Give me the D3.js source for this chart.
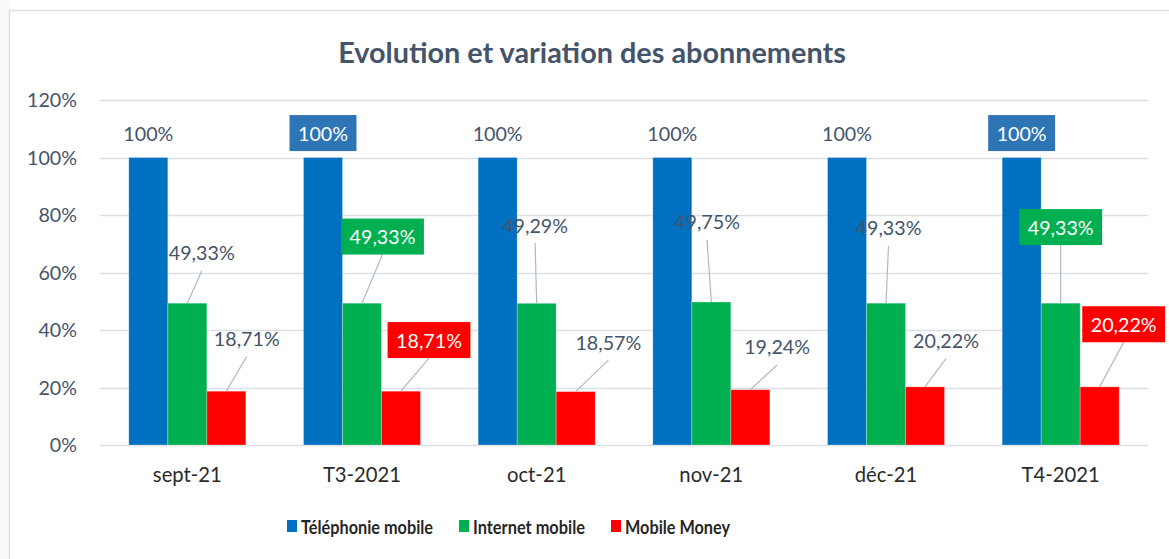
<!DOCTYPE html>
<html>
<head>
<meta charset="utf-8">
<script src="https://cdn.jsdelivr.net/npm/d3@7"></script>
<style>
  html, body { margin: 0; padding: 0; background: #ffffff; }
  svg { display: block; }
</style>
</head>
<body>
<svg id="chart" width="1169" height="559"></svg>
<script>
// ---------- data ----------
const categories = ["sept-21", "T3-2021", "oct-21", "nov-21", "déc-21", "T4-2021"];
const seriesNames = ["Téléphonie mobile", "Internet mobile", "Mobile Money"];
const telephonieMobile = [100, 100, 100, 100, 100, 100];
const internetMobile = [49.33, 49.33, 49.29, 49.75, 49.33, 49.33];
const mobileMoney = [18.71, 18.71, 18.57, 19.24, 20.22, 20.22];
const yTicks = [0, 20, 40, 60, 80, 100, 120];
const titleText = "Evolution et variation des abonnements";

// ---------- label placement (layout, not data) ----------
// [x offset from bar centre in px, label centre in value units]
const labelPlacement = [
  [[0,108.5],[0,108.5],[0,108.5],[0,108.5],[0,108.5],[0,108.5]],
  [[14.4,66.8],[20.5,72.5],[-1.6,76.5],[-4.3,77.6],[2.5,75.5],[0,75.8]],
  [[20.4,37.1],[28,36.5],[32.7,35.8],[26.7,34.1],[21,36.3],[24,42]]
];
const boxedCategories = ["T3-2021", "T4-2021"];
const legendTextWidths = [132, 112, 105];

// ---------- styles ----------
const FONT = "Lato, 'Open Sans', sans-serif";
const colors = ["#0070C0", "#00B050", "#FF0000"];
const boxColors = ["#2E75B6", "#00B050", "#FF0000"];
const textGray = "#44546A";
const gridColor = "#DCE0E6";
const leaderColor = "#ADB9CA";

const svg = d3.select("#chart");

function fitSize(text, weight, target) {
  const t = svg.append("text").attr("font-family", FONT).attr("font-weight", weight)
    .attr("font-size", 100).text(text);
  const w = t.node().getComputedTextLength();
  t.remove();
  return 100 * target / w;
}
const labelSize = fitSize("100%", 400, 50);
const catSize = fitSize("sept-21", 400, 69);
const titleSize = fitSize(titleText, 700, 508);

// frame
svg.append("rect").attr("x", 0).attr("y", 0).attr("width", 9).attr("height", 559).attr("fill", "#F8F9FB");
svg.append("rect").attr("x", 9.5).attr("y", 10.5).attr("width", 1200).attr("height", 600)
  .attr("fill", "#fff").attr("stroke", "#DDE1E7").attr("stroke-width", 1.5);

// title
svg.append("text").attr("x", 592).attr("y", 63).attr("text-anchor", "middle")
  .attr("font-family", FONT).attr("font-weight", 700).attr("font-size", titleSize)
  .attr("fill", textGray).text(titleText);

// scales
const plotLeft = 100, plotRight = 1148;
const y = d3.scaleLinear().domain([0, 120]).range([445, 100]);
const x0 = d3.scaleBand().domain(categories).range([plotLeft, plotRight])
  .paddingInner(0.33).paddingOuter(0.165);
const x1 = d3.scaleBand().domain(seriesNames).range([0, x0.bandwidth()]);

// gridlines
svg.append("g").selectAll("line").data(yTicks).join("line")
  .attr("x1", plotLeft).attr("x2", plotRight)
  .attr("y1", d => Math.round(y(d)) + 0.5).attr("y2", d => Math.round(y(d)) + 0.5)
  .attr("stroke", gridColor).attr("stroke-width", 1.5);

// y axis labels
const yAxis = d3.axisLeft(y).tickValues(yTicks).tickFormat(d => d + "%").tickSize(0).tickPadding(0);
const ya = svg.append("g").attr("transform", "translate(77,0)").call(yAxis);
ya.select(".domain").remove();
ya.selectAll("text").attr("font-family", FONT).attr("font-size", labelSize)
  .attr("fill", textGray).attr("dy", "0.35em");

// x axis labels
const xAxis = d3.axisBottom(x0).tickSize(0).tickPadding(0);
const xa = svg.append("g").attr("transform", "translate(0,475)").call(xAxis);
xa.select(".domain").remove();
xa.selectAll("text").attr("font-family", FONT).attr("font-size", catSize)
  .attr("fill", "#2b2b2b").attr("dy", "0.35em");

// bars
const seriesValues = [telephonieMobile, internetMobile, mobileMoney];
const barData = [];
categories.forEach((c, i) => {
  seriesNames.forEach((s, j) => {
    barData.push({ cat: c, ser: s, si: j, ci: i, v: seriesValues[j][i] });
  });
});
svg.append("g").selectAll("rect").data(barData).join("rect")
  .attr("x", d => x0(d.cat) + x1(d.ser))
  .attr("y", d => y(d.v))
  .attr("width", x1.bandwidth())
  .attr("height", d => y(0) - y(d.v))
  .attr("fill", d => colors[d.si])
  .attr("stroke", "rgba(255,255,255,0.35)").attr("stroke-width", 0.8);

// labels
const fmt = v => (v === 100 ? "100" : d3.format(".2f")(v).replace(".", ",")) + "%";
const lg = svg.append("g");
barData.forEach(d => {
  const [dx, lv] = labelPlacement[d.si][d.ci];
  const bx = x0(d.cat) + x1(d.ser) + x1.bandwidth() / 2;
  const lx = bx + dx;
  const ly = y(lv);
  const boxed = boxedCategories.includes(d.cat);
  if (d.si > 0) {
    lg.append("line").attr("x1", lx).attr("y1", ly + 18).attr("x2", bx).attr("y2", y(d.v))
      .attr("stroke", leaderColor).attr("stroke-width", 1.2);
  }
  const t = lg.append("text").attr("x", lx).attr("y", ly).attr("text-anchor", "middle")
    .attr("dominant-baseline", "central").attr("font-family", FONT).attr("font-size", labelSize)
    .attr("fill", boxed ? "#ffffff" : textGray).text(fmt(d.v));
  if (boxed) {
    const w = t.node().getComputedTextLength() + 17;
    lg.insert("rect", () => t.node()).attr("x", lx - w / 2).attr("y", ly - 18)
      .attr("width", w).attr("height", 36).attr("fill", boxColors[d.si]);
  }
});

// legend
const legend = svg.append("g");
let lxp = 287;
seriesNames.forEach((s, j) => {
  legend.append("rect").attr("x", lxp).attr("y", 520).attr("width", 10).attr("height", 12)
    .attr("fill", colors[j]);
  legend.append("text").attr("x", lxp + 14).attr("y", 526.5)
    .attr("dominant-baseline", "central").attr("font-family", FONT).attr("font-weight", 700)
    .attr("font-size", 18.5).attr("fill", "#262626")
    .attr("textLength", legendTextWidths[j]).attr("lengthAdjust", "spacingAndGlyphs").text(s);
  lxp += 14 + legendTextWidths[j] + 26;
});
</script>
</body>
</html>
